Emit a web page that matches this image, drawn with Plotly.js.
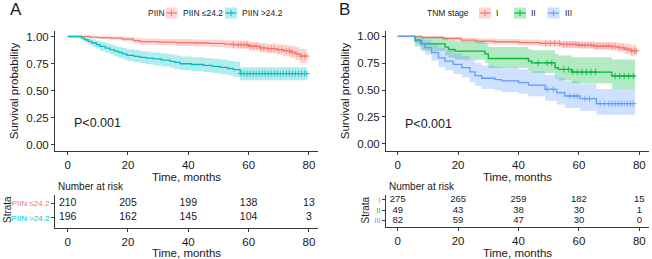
<!DOCTYPE html>
<html><head><meta charset="utf-8">
<script src="https://cdn.plot.ly/plotly-3.0.1.min.js"></script>
<style>html,body{margin:0;padding:0;background:#fff}#chart{width:652px;height:259px}</style>
</head><body><div id="chart"></div>
<script>
// ---------- Panel A data (PIIN) ----------
const piinLowTime  = [0, 7.4, 10, 14, 18, 21.8, 24, 30, 36, 42, 47, 52, 55, 60, 63.8, 66, 69.3, 71.5, 73.7, 75.5, 77, 79.3];
const piinLowSurv  = [1, 0.995, 0.99, 0.985, 0.975, 0.962, 0.952, 0.948, 0.944, 0.94, 0.936, 0.93, 0.924, 0.91, 0.895, 0.888, 0.878, 0.868, 0.856, 0.84, 0.818, 0.818];
const piinLowLower = [1, 0.985, 0.977, 0.969, 0.955, 0.937, 0.924, 0.918, 0.913, 0.908, 0.902, 0.895, 0.887, 0.87, 0.852, 0.843, 0.83, 0.817, 0.802, 0.782, 0.755, 0.755];
const piinLowUpper = [1, 1, 1, 1, 0.995, 0.988, 0.981, 0.978, 0.976, 0.973, 0.97, 0.966, 0.962, 0.952, 0.94, 0.934, 0.928, 0.921, 0.912, 0.902, 0.887, 0.887];
const piinLowCensor = [55, 56.5, 57.5, 58.5, 59.5, 60.5, 61.5, 62.5, 64, 65, 66.5, 67.5, 68.5, 70, 71, 72.5, 73.5, 74.5, 76, 77.5, 78.5, 79.3];

const piinHighTime  = [0, 4.6, 5.6, 6.8, 8, 9.5, 10.7, 12.5, 14, 15.5, 16.8, 18.2, 19.6, 22, 24, 26, 28.4, 31, 33.9, 35.5, 37.3, 41, 45, 48, 50.5, 53, 55, 57.2, 79.3];
const piinHighSurv  = [1, 0.985, 0.97, 0.955, 0.94, 0.925, 0.909, 0.893, 0.878, 0.865, 0.853, 0.84, 0.826, 0.816, 0.807, 0.8, 0.792, 0.781, 0.77, 0.76, 0.748, 0.741, 0.733, 0.724, 0.715, 0.704, 0.693, 0.657, 0.657];
const piinHighLower = [1, 0.968, 0.946, 0.926, 0.906, 0.888, 0.869, 0.85, 0.833, 0.818, 0.804, 0.789, 0.773, 0.762, 0.752, 0.744, 0.735, 0.723, 0.711, 0.7, 0.687, 0.679, 0.67, 0.66, 0.65, 0.638, 0.626, 0.594, 0.594];
const piinHighUpper = [1, 1, 0.994, 0.985, 0.975, 0.963, 0.95, 0.937, 0.925, 0.914, 0.904, 0.894, 0.883, 0.874, 0.866, 0.86, 0.853, 0.843, 0.833, 0.824, 0.814, 0.808, 0.801, 0.794, 0.786, 0.776, 0.767, 0.715, 0.715];
const piinHighCensor = [57.5, 58.5, 59.5, 60.5, 61.5, 62.5, 63.5, 64.5, 65.5, 66.5, 67.5, 68.5, 69.5, 70.5, 71.5, 72.5, 73.5, 74.5, 75.5, 76.5, 77.5, 78.5, 79.3];

const piinLabels = ['PIIN ≤24.2', 'PIIN >24.2'];
const riskTimes = [0, 20, 40, 60, 80];
const piinLowRisk  = [210, 205, 199, 138, 13];
const piinHighRisk = [196, 162, 145, 104, 3];

// ---------- Panel B data (TNM stage) ----------
const stage1Time  = [0, 8, 15, 21, 26, 32, 40, 47, 54, 60, 65, 71, 73, 75, 77, 79];
const stage1Surv  = [1, 0.99, 0.98, 0.965, 0.955, 0.95, 0.942, 0.935, 0.925, 0.918, 0.91, 0.905, 0.895, 0.88, 0.865, 0.865];
const stage1Lower = [1, 0.978, 0.963, 0.943, 0.93, 0.924, 0.914, 0.905, 0.894, 0.886, 0.876, 0.869, 0.856, 0.838, 0.816, 0.816];
const stage1Upper = [1, 1, 0.997, 0.987, 0.98, 0.976, 0.97, 0.965, 0.958, 0.953, 0.948, 0.945, 0.94, 0.932, 0.924, 0.924];
const stage1Censor = [49, 50.5, 52, 53.5, 55, 56, 57, 58, 59, 60, 61, 62, 63, 64, 65, 66, 67, 68, 69, 70, 71, 72, 73.5, 74.5, 76, 77.5, 78.5, 79];

const stage2Time  = [0, 5.7, 7.9, 15.7, 16.8, 19, 28.9, 30, 43.3, 44.4, 52.1, 53.2, 57.6, 70.9, 78.6];
const stage2Surv  = [1, 0.96, 0.93, 0.9, 0.878, 0.863, 0.838, 0.794, 0.77, 0.754, 0.708, 0.692, 0.668, 0.631, 0.631];
const stage2Lower = [1, 0.905, 0.865, 0.825, 0.8, 0.783, 0.755, 0.705, 0.678, 0.66, 0.608, 0.59, 0.563, 0.507, 0.507];
const stage2Upper = [1, 1, 0.995, 0.98, 0.965, 0.955, 0.935, 0.9, 0.88, 0.87, 0.835, 0.823, 0.805, 0.785, 0.785];
const stage2Censor = [46.5, 49.5, 51, 55, 56.5, 58, 59.5, 61, 62.5, 64, 65.5, 72, 73.5, 75, 76.5, 78];

const stage3Time  = [0, 5.7, 7.4, 9.0, 11.2, 13.5, 15.7, 18.4, 21.2, 23.9, 25.6, 27.8, 32.2, 34.4, 40, 43.3, 48.8, 52.6, 55.3, 60.3, 65.8, 78.6];
const stage3Surv  = [1, 0.97, 0.93, 0.895, 0.85, 0.8, 0.77, 0.74, 0.71, 0.67, 0.635, 0.61, 0.597, 0.585, 0.57, 0.547, 0.507, 0.476, 0.445, 0.42, 0.374, 0.374];
const stage3Lower = [1, 0.934, 0.876, 0.83, 0.774, 0.716, 0.682, 0.65, 0.617, 0.574, 0.537, 0.51, 0.496, 0.483, 0.467, 0.443, 0.4, 0.367, 0.334, 0.307, 0.27, 0.27];
const stage3Upper = [1, 1, 0.987, 0.965, 0.934, 0.894, 0.868, 0.842, 0.817, 0.782, 0.752, 0.73, 0.718, 0.708, 0.695, 0.675, 0.64, 0.612, 0.585, 0.562, 0.51, 0.51];
const stage3Censor = [49.5, 51.5, 57, 58.5, 59.5, 62, 63.5, 67, 68.5, 70, 71, 72, 73, 74, 75, 76, 77, 78];

const stageLabels = ['I', 'II', 'III'];
const stage1Risk = [275, 265, 259, 182, 15];
const stage2Risk = [49, 43, 38, 30, 1];
const stage3Risk = [82, 59, 47, 30, 0];

// ---------- styling ----------
const FONT = 'Liberation Sans, Arial, Helvetica, sans-serif';
const TXT = '#1a1a1a';
const AX = '#3a3a3a';
const RED = '#F8766D', TEAL = '#00BFC4', GREEN = '#00BA38', BLUE = '#619CFF';
function rgba(hex, a){const n=parseInt(hex.slice(1),16);return `rgba(${n>>16&255},${n>>8&255},${n&255},${a})`;}
const W = 652, H = 259;
const PX = p => p / W, PY = p => 1 - p / H;

function survAt(times, surv, t){ let v = surv[0]; for (let i=0;i<times.length;i++){ if (times[i] <= t) v = surv[i]; } return v; }

const traces = [];
function addCurve(times, surv, lo, hi, cens, color, xa, ya){
  traces.push({x: times, y: lo, xaxis: xa, yaxis: ya, mode: 'lines', line: {width: 0, shape: 'hv', color: color}, hoverinfo: 'skip'});
  traces.push({x: times, y: hi, xaxis: xa, yaxis: ya, mode: 'lines', fill: 'tonexty', fillcolor: rgba(color, 0.3), line: {width: 0, shape: 'hv', color: color}, hoverinfo: 'skip'});
  traces.push({x: times, y: surv, xaxis: xa, yaxis: ya, mode: 'lines', line: {width: 1.3, shape: 'hv', color: color}});
  traces.push({x: cens, y: cens.map(t => survAt(times, surv, t)), xaxis: xa, yaxis: ya, mode: 'markers',
    marker: {symbol: 'cross-thin-open', size: 4.5, line: {width: 0.8, color: color}, color: color}});
}
addCurve(piinLowTime, piinLowSurv, piinLowLower, piinLowUpper, piinLowCensor, RED, 'x', 'y');
addCurve(piinHighTime, piinHighSurv, piinHighLower, piinHighUpper, piinHighCensor, TEAL, 'x', 'y');
addCurve(stage1Time, stage1Surv, stage1Lower, stage1Upper, stage1Censor, RED, 'x2', 'y2');
addCurve(stage2Time, stage2Surv, stage2Lower, stage2Upper, stage2Censor, GREEN, 'x2', 'y2');
addCurve(stage3Time, stage3Surv, stage3Lower, stage3Upper, stage3Censor, BLUE, 'x2', 'y2');

function addRisk(vals, row, xa, ya, size){
  traces.push({x: riskTimes, y: riskTimes.map(() => row), text: vals.map(String), mode: 'text', xaxis: xa, yaxis: ya,
    textfont: {family: FONT, size: size, color: TXT}, cliponaxis: false, hoverinfo: 'skip'});
}
addRisk(piinLowRisk, 2, 'x3', 'y3', 10.5);
addRisk(piinHighRisk, 1, 'x3', 'y3', 10.5);
addRisk(stage1Risk, 3, 'x4', 'y4', 9.5);
addRisk(stage2Risk, 2, 'x4', 'y4', 9.5);
addRisk(stage3Risk, 1, 'x4', 'y4', 9.5);

const tickFont = {family: FONT, size: 11.5, color: TXT};
const baseAx = {showgrid: false, zeroline: false, showline: true, linecolor: AX, linewidth: 1, ticks: 'outside', ticklen: 3, tickcolor: AX, tickwidth: 1, tickfont: tickFont, fixedrange: true};
const xTicks = {tickvals: riskTimes, ticktext: riskTimes.map(String)};
const survTicks = {tickvals: [0, 0.25, 0.5, 0.75, 1], ticktext: ['0.00', '0.25', '0.50', '0.75', '1.00']};
const xTitle = {text: 'Time, months', font: {family: FONT, size: 11.5, color: TXT}, standoff: 0};
const yTitle = {text: 'Survival probability', font: {family: FONT, size: 11.5, color: TXT}, standoff: 5};

const leftX = [PX(55), PX(318)], rightX = [PX(386), PX(649)];

const layout = {
  width: W, height: H, margin: {l: 0, r: 0, t: 0, b: 0}, paper_bgcolor: '#fff', plot_bgcolor: '#fff', showlegend: false,
  font: {family: FONT, color: TXT},
  xaxis:  Object.assign({}, baseAx, xTicks, {domain: leftX, range: [-4.2, 83], anchor: 'y', title: xTitle}),
  yaxis:  Object.assign({}, baseAx, survTicks, {domain: [PY(151), PY(31)], range: [-0.06, 1.051], anchor: 'x', title: yTitle}),
  xaxis2: Object.assign({}, baseAx, xTicks, {domain: rightX, range: [-3.87, 83.2], anchor: 'y2', title: xTitle}),
  yaxis2: Object.assign({}, baseAx, survTicks, {domain: [PY(151), PY(31)], range: [-0.067, 1.05], anchor: 'x2', title: yTitle}),
  xaxis3: Object.assign({}, baseAx, xTicks, {domain: leftX, range: [-4.2, 83], anchor: 'y3', title: xTitle}),
  yaxis3: Object.assign({}, baseAx, {domain: [PY(228), PY(195)], range: [0.285, 2.58], anchor: 'x3',
    tickvals: [2, 1], ticktext: [`<span style="color:${RED}">${piinLabels[0]}</span>`, `<span style="color:${TEAL}">${piinLabels[1]}</span>`],
    tickfont: {family: FONT, size: 8, color: TXT}}),
  xaxis4: Object.assign({}, baseAx, xTicks, {domain: rightX, range: [-3.87, 83.2], anchor: 'y4', title: xTitle}),
  yaxis4: Object.assign({}, baseAx, {domain: [PY(227.3), PY(195)], range: [0.36, 3.48], anchor: 'x4',
    tickvals: [3, 2, 1], ticktext: [`<span style="color:${RED}">${stageLabels[0]}</span>`, `<span style="color:${GREEN}">${stageLabels[1]}</span>`, `<span style="color:${BLUE}">${stageLabels[2]}</span>`],
    tickfont: {family: FONT, size: 7.5, color: TXT}}),
  annotations: [], shapes: []
};

const ann = layout.annotations, shp = layout.shapes;
function note(text, x, y, size, opts){ ann.push(Object.assign({text, x: PX(x), y: PY(y), xref: 'paper', yref: 'paper', showarrow: false, xanchor: 'left', yanchor: 'middle', font: {family: FONT, size, color: TXT}}, opts || {})); }
note('A', 8, 9, 17);
note('B', 337, 9, 17);
note('P<0.001', 72, 123.3, 12.5);
note('P<0.001', 402.5, 124.3, 12.5);
note('Number at risk', 56, 186, 10);
note('Number at risk', 387.5, 186, 10);
note('Strata', 7, 210, 10, {xanchor: 'center', textangle: -90});
note('Strata', 364.5, 210, 10, {xanchor: 'center', textangle: -90});
note('PIIN', 146, 13, 8.5);
note('TNM stage', 425.5, 13, 8.5);

function key(cx, cy, color, label){
  shp.push({type: 'rect', xref: 'paper', yref: 'paper', x0: PX(cx-6), x1: PX(cx+6), y0: PY(cy+5.5), y1: PY(cy-5.5), fillcolor: rgba(color, 0.3), line: {width: 0}});
  shp.push({type: 'line', xref: 'paper', yref: 'paper', x0: PX(cx-5.5), x1: PX(cx+5.5), y0: PY(cy), y1: PY(cy), line: {color: color, width: 1.2}});
  shp.push({type: 'line', xref: 'paper', yref: 'paper', x0: PX(cx), x1: PX(cx), y0: PY(cy-3), y1: PY(cy+3), line: {color: color, width: 1}});
  note(label, cx + 9, cy, 8.5);
}
key(171.5, 13, RED, piinLabels[0]);
key(231, 13, TEAL, piinLabels[1]);
key(485, 13, RED, stageLabels[0]);
key(520, 13, GREEN, stageLabels[1]);
key(553.5, 13, BLUE, stageLabels[2]);

Plotly.newPlot('chart', traces, layout, {staticPlot: true, displayModeBar: false});
</script></body></html>
